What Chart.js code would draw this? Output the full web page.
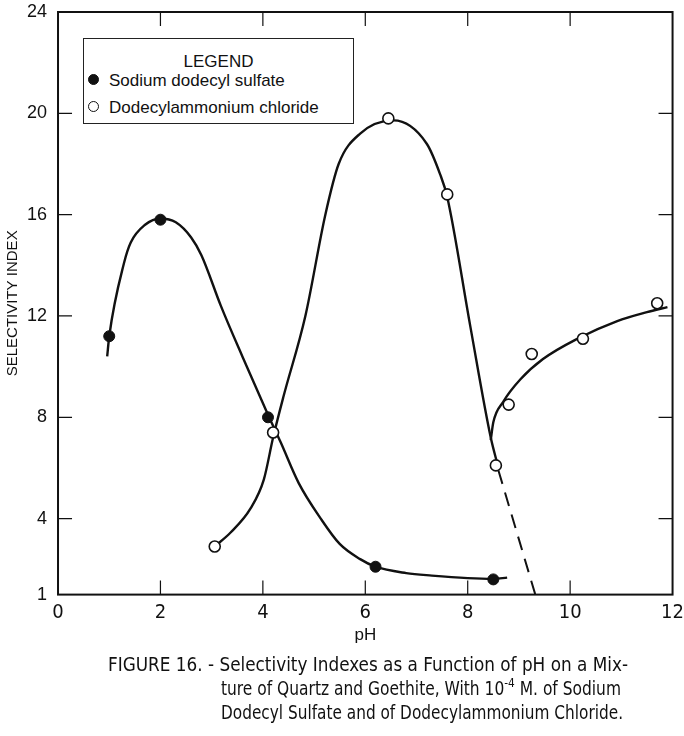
<!DOCTYPE html>
<html>
<head>
<meta charset="utf-8">
<script src="https://cdn.jsdelivr.net/npm/chart.js@4.4.1/dist/chart.umd.min.js"></script>
<style>
  body { margin: 0; background: #fff; }
  #wrap { position: relative; width: 684px; height: 736px; }
  #legendBox {
    position: absolute; left: 83px; top: 38px; width: 271px; height: 86px;
    border: 1.5px solid #222; background: #fff; box-sizing: border-box;
    font-family: "Liberation Sans", Arial, sans-serif; font-size: 17px; color: #111;
  }
  #legendBox .title { position: absolute; left: 0; right: 0; top: 13px; text-align: center; }
  #legendBox .row { position: absolute; left: 4px; white-space: nowrap; }
  #legendBox .dot { display: inline-block; width: 9px; height: 9px; border-radius: 50%;
    border: 1.5px solid #111; margin-right: 10px; vertical-align: 1px; }
</style>
</head>
<body>
<div id="wrap">
  <canvas id="selectivityChart" width="684" height="736"></canvas>
  <div id="legendBox">
    <div class="title">LEGEND</div>
    <div class="row" style="top:32px"><span class="dot" style="background:#111"></span>Sodium dodecyl sulfate</div>
    <div class="row" style="top:59px"><span class="dot" style="background:#fff"></span>Dodecylammonium chloride</div>
  </div>
</div>
<script>
// Axis ticks
const xTicks = [0, 2, 4, 6, 8, 10, 12];
const yTicks = [1, 4, 8, 12, 16, 20, 24];

// Sodium dodecyl sulfate (filled points)
const sdsPH = [1.0, 2.0, 4.1, 6.2, 8.5];
const sdsIndex = [11.2, 15.8, 8.0, 2.1, 1.6];

// Dodecylammonium chloride (open points)
const dacPH = [3.06, 4.2, 6.45, 7.6, 8.55, 8.8, 9.25, 10.25, 11.7];
const dacIndex = [2.9, 7.4, 19.8, 16.8, 6.1, 8.5, 10.5, 11.1, 12.5];

// Hand drawn curves
const sdsCurveX = [0.96, 1.0, 1.29, 1.42, 1.7, 2.0, 2.3, 2.6, 2.8, 3.18, 3.6, 4.1, 4.35, 4.7, 5.13, 5.5, 5.9, 6.2, 6.8, 7.3, 8.0, 8.5, 8.77];
const sdsCurveY = [10.4, 11.2, 14.1, 14.9, 15.6, 15.85, 15.7, 15.1, 14.4, 12.4, 10.4, 8.1, 7.0, 5.4, 4.0, 3.0, 2.4, 2.1, 1.85, 1.75, 1.65, 1.62, 1.67];

const dacCurveX = [3.06, 3.37, 3.76, 4.02, 4.2, 4.4, 4.83, 5.22, 5.48, 5.9, 6.55, 7.2, 7.46, 7.6, 8.05, 8.45, 8.6];
const dacCurveY = [2.9, 3.45, 4.4, 5.55, 7.2, 8.8, 12.0, 16.0, 18.0, 19.2, 19.72, 18.8, 17.6, 16.7, 11.6, 7.2, 6.0];

const dacBranchX = [8.45, 8.5, 8.69, 9.03, 9.47, 10.14, 10.92, 11.5, 11.9];
const dacBranchY = [7.1, 7.8, 8.6, 9.5, 10.3, 11.1, 11.8, 12.15, 12.35];

const dacDashX = [8.6, 9.32];
const dacDashY = [5.9, 1.0];

function pairs(xs, ys) {
    return xs.map((x, i) => ({ x: x, y: ys[i] }));
}

const ink = '#111';
const narrow = '"Liberation Sans Narrow", "DejaVu Sans Condensed", sans-serif';

// Frame with inward ticks on all four sides
const framePlugin = {
    id: 'frame',
    afterDraw(chart) {
        const { ctx, chartArea: a, scales } = chart;
        const len = 14;
        ctx.save();
        ctx.strokeStyle = ink;
        ctx.lineWidth = 2;
        ctx.strokeRect(a.left, a.top, a.right - a.left, a.bottom - a.top);
        ctx.lineWidth = 1.2;
        ctx.beginPath();
        xTicks.slice(1, -1).forEach(v => {
            const px = scales.x.getPixelForValue(v);
            ctx.moveTo(px, a.bottom); ctx.lineTo(px, a.bottom - len);
            ctx.moveTo(px, a.top); ctx.lineTo(px, a.top + len);
        });
        yTicks.slice(1, -1).forEach(v => {
            const py = scales.y.getPixelForValue(v);
            ctx.moveTo(a.left, py); ctx.lineTo(a.left + len, py);
            ctx.moveTo(a.right, py); ctx.lineTo(a.right - len, py);
        });
        ctx.stroke();
        ctx.restore();
    }
};

// draws a list of [text, size, dy] pieces squeezed to a given width
function squeezeLine(ctx, pieces, x, y, width) {
    let total = 0;
    pieces.forEach(p => { ctx.font = p[1] + 'px ' + narrow; total += ctx.measureText(p[0]).width; });
    const s = Math.min(1, width / total);
    ctx.save();
    ctx.translate(x, y);
    ctx.scale(s, 1);
    let cx = 0;
    pieces.forEach(p => {
        ctx.font = p[1] + 'px ' + narrow;
        ctx.fillText(p[0], cx, p[2]);
        cx += ctx.measureText(p[0]).width;
    });
    ctx.restore();
}

// Figure caption under the chart
const captionPlugin = {
    id: 'caption',
    afterDraw(chart) {
        const ctx = chart.ctx;
        ctx.save();
        ctx.fillStyle = ink;
        ctx.textBaseline = 'alphabetic';
        squeezeLine(ctx, [['FIGURE 16. - Selectivity Indexes as a Function of pH on a Mix-', 19, 0]], 108, 671, 520);
        squeezeLine(ctx, [['ture of Quartz and Goethite, With 10', 19, 0], ['-4', 13, -8], [' M. of Sodium', 19, 0]], 221, 695, 400);
        squeezeLine(ctx, [['Dodecyl Sulfate and of Dodecylammonium Chloride.', 19, 0]], 221, 719, 402);
        ctx.restore();
    }
};

const ctx = document.getElementById('selectivityChart');
new Chart(ctx, {
    type: 'scatter',
    data: {
        datasets: [
            {
                label: 'Sodium dodecyl sulfate',
                data: pairs(sdsPH, sdsIndex),
                pointRadius: 5.5,
                pointBackgroundColor: ink,
                pointBorderColor: ink,
                pointBorderWidth: 1,
                showLine: false,
                order: 0
            },
            {
                label: 'Dodecylammonium chloride',
                data: pairs(dacPH, dacIndex),
                pointRadius: 5.5,
                pointBackgroundColor: '#fff',
                pointBorderColor: ink,
                pointBorderWidth: 1.6,
                showLine: false,
                order: 0
            },
            {
                label: 'sds curve',
                data: pairs(sdsCurveX, sdsCurveY),
                showLine: true,
                pointRadius: 0,
                borderColor: ink,
                borderWidth: 2.4,
                cubicInterpolationMode: 'monotone',
                order: 1
            },
            {
                label: 'dac curve',
                data: pairs(dacCurveX, dacCurveY),
                showLine: true,
                pointRadius: 0,
                borderColor: ink,
                borderWidth: 2.4,
                cubicInterpolationMode: 'monotone',
                order: 1
            },
            {
                label: 'dac branch',
                data: pairs(dacBranchX, dacBranchY),
                showLine: true,
                pointRadius: 0,
                borderColor: ink,
                borderWidth: 2.4,
                cubicInterpolationMode: 'monotone',
                order: 1
            },
            {
                label: 'dac dashed',
                data: pairs(dacDashX, dacDashY),
                showLine: true,
                pointRadius: 0,
                borderColor: ink,
                borderWidth: 2,
                borderDash: [14, 9],
                order: 1
            }
        ]
    },
    options: {
        responsive: false,
        animation: false,
        layout: {
            padding: { left: 0, top: 11, right: 10, bottom: 90 }
        },
        plugins: {
            legend: { display: false },
            tooltip: { enabled: false }
        },
        scales: {
            x: {
                type: 'linear',
                min: 0,
                max: 12,
                afterBuildTicks: axis => { axis.ticks = xTicks.map(v => ({ value: v })); },
                grid: { display: false },
                border: { display: false },
                ticks: {
                    color: ink,
                    padding: 0,
                    font: { family: narrow, size: 20, lineHeight: 1 }
                },
                title: {
                    display: true,
                    text: 'pH',
                    color: ink,
                    padding: { top: 3, bottom: 0 },
                    font: { family: '"Liberation Sans", Arial, sans-serif', size: 17 }
                }
            },
            y: {
                type: 'linear',
                min: 1,
                max: 24,
                afterBuildTicks: axis => { axis.ticks = yTicks.map(v => ({ value: v })); },
                grid: { display: false },
                border: { display: false },
                ticks: {
                    color: ink,
                    padding: 3,
                    font: { family: '"Liberation Sans", Arial, sans-serif', size: 18, lineHeight: 1 }
                },
                title: {
                    display: true,
                    text: 'SELECTIVITY INDEX',
                    color: ink,
                    padding: { top: 4, bottom: 2 },
                    font: { family: '"Liberation Sans", Arial, sans-serif', size: 15 }
                }
            }
        }
    },
    plugins: [framePlugin, captionPlugin]
});
</script>
</body>
</html>
